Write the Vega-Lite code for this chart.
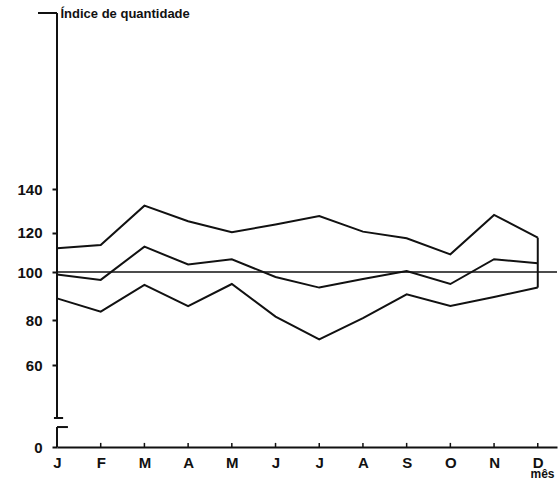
{
  "$schema": "https://vega.github.io/schema/vega-lite/v6.json",
  "autosize": "none",
  "width": 500,
  "height": 434,
  "padding": {"left": 57, "top": 13, "right": 2, "bottom": 34},
  "background": "white",
  "config": {"view": {"stroke": null}, "font": "Liberation Sans"},
  "datasets": {
    "series": [
      {"m": 1, "serie": "superior", "v": 112.1},
      {"m": 2, "serie": "superior", "v": 113.7},
      {"m": 3, "serie": "superior", "v": 132.5},
      {"m": 4, "serie": "superior", "v": 125.3},
      {"m": 5, "serie": "superior", "v": 120.2},
      {"m": 6, "serie": "superior", "v": 123.8},
      {"m": 7, "serie": "superior", "v": 127.7},
      {"m": 8, "serie": "superior", "v": 120.5},
      {"m": 9, "serie": "superior", "v": 117.2},
      {"m": 10, "serie": "superior", "v": 109.0},
      {"m": 11, "serie": "superior", "v": 128.2},
      {"m": 12, "serie": "superior", "v": 117.5},
      {"m": 1, "serie": "media", "v": 99.0},
      {"m": 2, "serie": "media", "v": 96.7},
      {"m": 3, "serie": "media", "v": 112.9},
      {"m": 4, "serie": "media", "v": 103.8},
      {"m": 5, "serie": "media", "v": 106.5},
      {"m": 6, "serie": "media", "v": 97.9},
      {"m": 7, "serie": "media", "v": 93.5},
      {"m": 8, "serie": "media", "v": 97.1},
      {"m": 9, "serie": "media", "v": 100.5},
      {"m": 10, "serie": "media", "v": 95.0},
      {"m": 11, "serie": "media", "v": 106.5},
      {"m": 12, "serie": "media", "v": 104.4},
      {"m": 1, "serie": "inferior", "v": 89.0},
      {"m": 2, "serie": "inferior", "v": 83.5},
      {"m": 3, "serie": "inferior", "v": 94.6},
      {"m": 4, "serie": "inferior", "v": 85.8},
      {"m": 5, "serie": "inferior", "v": 95.0},
      {"m": 6, "serie": "inferior", "v": 81.4},
      {"m": 7, "serie": "inferior", "v": 71.4},
      {"m": 8, "serie": "inferior", "v": 80.8},
      {"m": 9, "serie": "inferior", "v": 90.7},
      {"m": 10, "serie": "inferior", "v": 85.8},
      {"m": 11, "serie": "inferior", "v": 89.6},
      {"m": 12, "serie": "inferior", "v": 93.5}
    ],
    "referencia": [{"v": 100}],
    "fecho": [{"m": 12, "top": 117.5, "bottom": 93.5}],
    "eixo": [{"y": 0, "y2": 14.6}, {"y": 21.2, "y2": 220}],
    "marcas": [
      {"x": 1, "x2": 1.25, "y": 14.6},
      {"x": 0.93, "x2": 1.14, "y": 21.2},
      {"x": 0.565, "x2": 1, "y": 220}
    ],
    "meses": [{"m": 1}, {"m": 2}, {"m": 3}, {"m": 4}, {"m": 5}, {"m": 6}, {"m": 7}, {"m": 8}, {"m": 9}, {"m": 10}, {"m": 11}, {"m": 12}]
  },
  "layer": [
    {
      "data": {"name": "series"},
      "mark": {"type": "line", "color": "#111", "strokeWidth": 2, "strokeJoin": "miter", "clip": false},
      "encoding": {
        "x": {
          "field": "m", "type": "quantitative",
          "scale": {"domain": [1, 12.44], "nice": false, "zero": false},
          "axis": {
            "values": [1, 2, 3, 4, 5, 6, 7, 8, 9, 10, 11, 12],
            "labelExpr": "['J','F','M','A','M','J','J','A','S','O','N','D'][datum.value-1]",
            "grid": false, "ticks": false, "domain": true, "domainColor": "#111", "domainWidth": 2,
            "labelFont": "Liberation Sans", "labelFontWeight": "bold", "labelFontSize": 15, "labelColor": "#111",
            "labelPadding": 8, "labelFlush": false, "labelOverlap": false,
            "title": "mês", "titleFont": "Liberation Sans", "titleFontWeight": "bold", "titleFontSize": 12, "titleColor": "#111",
            "titleAnchor": "end", "titleAlign": "right", "titleX": 497, "titleY": 30, "titleBaseline": "alphabetic"
          }
        },
        "y": {
          "field": "v", "type": "quantitative",
          "scale": {"domain": [0, 60, 80, 100, 120, 140, 220], "range": [434, 352, 307, 259, 219.7, 176.4, 0], "nice": false, "zero": false},
          "axis": {
            "values": [0, 60, 80, 100, 120, 140],
            "grid": false, "domain": false, "ticks": true, "tickSize": 5, "tickWidth": 2, "tickColor": "#111",
            "labelFont": "Liberation Sans", "labelFontWeight": "bold", "labelFontSize": 15, "labelColor": "#111", "labelPadding": 10,
            "title": "Índice de quantidade", "titleFont": "Liberation Sans", "titleFontWeight": "bold", "titleFontSize": 13, "titleColor": "#111",
            "titleAngle": 0, "titleAlign": "left", "titleX": 3, "titleY": 4, "titleBaseline": "alphabetic"
          }
        },
        "detail": {"field": "serie"}
      }
    },
    {
      "data": {"name": "referencia"},
      "mark": {"type": "rule", "color": "#111", "strokeWidth": 1.5},
      "encoding": {"y": {"field": "v", "type": "quantitative"}}
    },
    {
      "data": {"name": "fecho"},
      "mark": {"type": "rule", "color": "#111", "strokeWidth": 2},
      "encoding": {
        "x": {"field": "m", "type": "quantitative"},
        "y": {"field": "top", "type": "quantitative"},
        "y2": {"field": "bottom"}
      }
    },
    {
      "data": {"name": "eixo"},
      "mark": {"type": "rule", "color": "#111", "strokeWidth": 2, "clip": false},
      "encoding": {
        "x": {"datum": 1, "type": "quantitative"},
        "y": {"field": "y", "type": "quantitative"},
        "y2": {"field": "y2"}
      }
    },
    {
      "data": {"name": "marcas"},
      "mark": {"type": "rule", "color": "#111", "strokeWidth": 2, "clip": false},
      "encoding": {
        "x": {"field": "x", "type": "quantitative"},
        "x2": {"field": "x2"},
        "y": {"field": "y", "type": "quantitative"}
      }
    },
    {
      "data": {"name": "meses"},
      "mark": {"type": "rule", "color": "#111", "strokeWidth": 1.5},
      "encoding": {
        "x": {"field": "m", "type": "quantitative"},
        "y": {"datum": 0, "type": "quantitative"},
        "y2": {"datum": 3}
      }
    }
  ]
}
